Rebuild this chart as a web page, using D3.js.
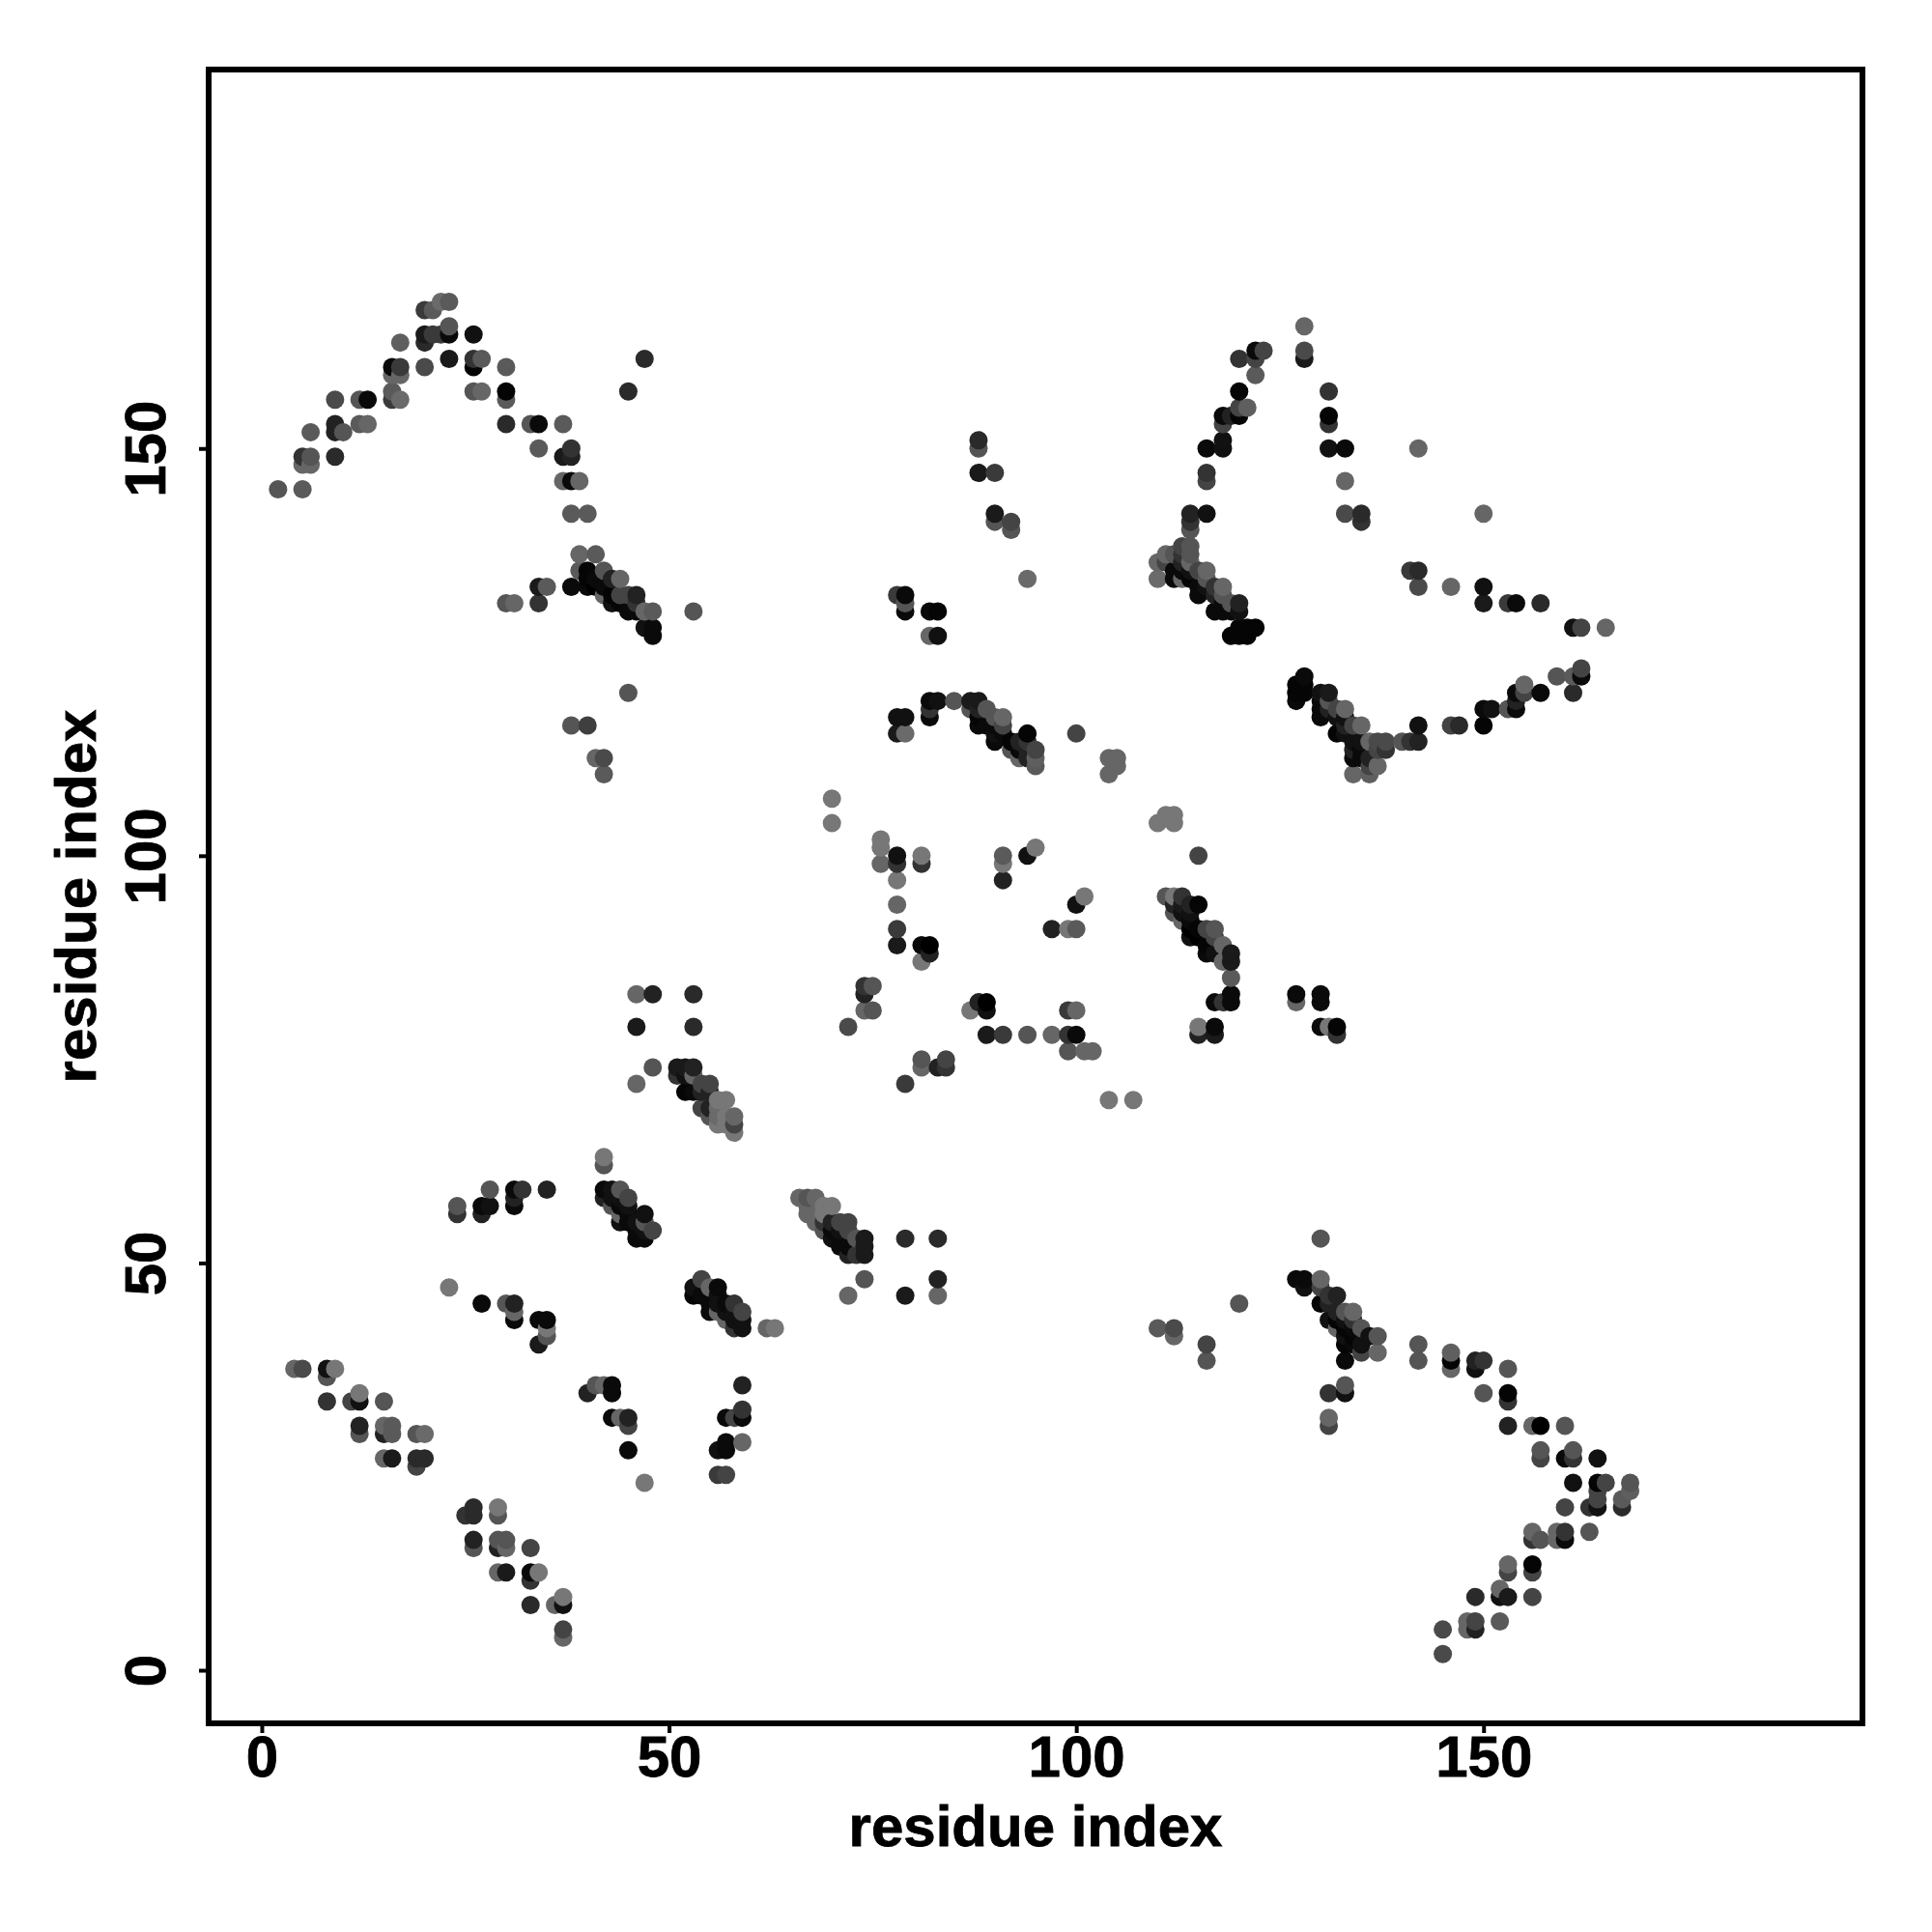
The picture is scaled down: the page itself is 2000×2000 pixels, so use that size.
<!DOCTYPE html>
<html><head><meta charset="utf-8"><style>html,body{margin:0;background:#fff}svg{display:block}text{font-family:"Liberation Sans",Arial,sans-serif;font-weight:bold;fill:#000;stroke:#000;stroke-width:0.8px}</style>
<script src="https://cdn.jsdelivr.net/npm/d3@7"></script></head><body><script>
// Each contact: [residue i, residue j, grey level]
const topLeftArc=[[2,145,0x55],[5,145,0x5a],[5,148,0x66],[6,148,0x66],[5,149,0x33],[6,149,0x55],[6,152,0x5a],[9,149,0x2a],[9,153,0x22],[9,152,0x22],[10,152,0x55],[9,156,0x4a],[12,156,0x55],[13,156,0x0a],[12,153,0x5a],[13,153,0x66],[16,157,0x5a],[16,156,0x3a],[17,156,0x6a],[16,160,0x0a],[17,160,0x3a],[16,159,0x66],[17,159,0x66],[17,163,0x5f],[20,160,0x4a],[20,167,0x3a],[21,167,0x5a],[22,168,0x6a],[23,168,0x5a],[20,164,0x1a],[20,163,0x2a],[21,164,0x3a],[22,164,0x3a],[23,164,0x0a],[23,165,0x55],[23,161,0x1a],[26,164,0x11],[26,161,0x33],[26,160,0x05],[27,161,0x5a],[26,157,0x55],[27,157,0x66],[30,160,0x5a],[30,157,0x05],[30,156,0x5a],[30,153,0x2a],[33,153,0x55],[34,153,0x0a],[37,153,0x5a],[34,150,0x5a],[37,149,0x1a],[38,149,0x22],[38,150,0x33],[37,146,0x66],[38,146,0x0a],[39,146,0x66],[38,142,0x5a],[40,142,0x5a]];
const helixA=[[39,137,0x66],[41,137,0x5a],[39,135,0x5a],[40,135,0x05],[42,135,0x55],[40,134,0x05],[41,134,0x0a],[38,133,0x0a],[40,133,0x0a],[34,133,0x1a],[35,133,0x5a],[30,131,0x55],[31,131,0x66],[34,131,0x33],[43,134,0x22],[44,134,0x66],[42,133,0x0a],[43,132,0x05],[41,133,0x00],[42,132,0x66],[43,131,0x11],[44,132,0x44],[45,132,0x44],[46,132,0x22],[44,131,0x05],[45,130,0x0a],[46,131,0x33],[46,130,0x0a],[47,130,0x66],[48,130,0x5a],[47,128,0x11],[48,128,0x0a],[48,127,0x0a],[53,130,0x55],[47,161,0x2a],[45,157,0x2a],[45,120,0x55],[38,116,0x55],[40,116,0x3f],[41,112,0x66],[42,112,0x4a],[42,110,0x5a]];
const topRightArc=[[128,165,0x66],[128,162,0x4a],[128,161,0x1a],[120,161,0x33],[122,162,0x0a],[123,162,0x44],[122,161,0x44],[122,159,0x5a],[120,157,0x05],[121,155,0x5f],[120,155,0x44],[118,154,0x0a],[119,154,0x22],[120,154,0x05],[118,153,0x44],[118,151,0x11],[118,150,0x11],[116,150,0x0a],[116,147,0x33],[116,146,0x44],[114,142,0x22],[116,142,0x11],[114,141,0x33],[114,140,0x55],[131,157,0x33],[131,154,0x05],[131,153,0x33],[131,150,0x11],[133,150,0x0a],[133,146,0x66],[133,142,0x4a],[135,142,0x2a],[135,141,0x33],[142,150,0x66],[150,142,0x66],[141,135,0x3a],[142,135,0x2a],[142,133,0x4a],[146,133,0x66],[150,133,0x11],[150,131,0x1a],[153,131,0x3a],[154,131,0x0a],[157,131,0x2a],[161,128,0x11],[162,128,0x44],[165,128,0x66]];
const rightTail=[[162,123,0x44],[162,122,0x0a],[161,122,0x5a],[159,122,0x55],[161,120,0x2a],[157,120,0x0a],[155,121,0x66],[154,120,0x0a],[155,120,0x44],[154,118,0x0a],[153,118,0x55],[154,119,0x22],[150,118,0x0a],[151,118,0x11],[150,116,0x05],[147,116,0x2a],[146,116,0x44],[142,116,0x11],[142,114,0x22],[141,114,0x33],[140,114,0x55]];
const helixB=[[128,122,0x0a],[127,121,0x05],[127,120,0x05],[127,119,0x0a],[128,121,0x05],[128,120,0x05],[130,120,0x11],[131,120,0x1a],[130,119,0x0a],[130,118,0x0a],[130,117,0x0a],[131,119,0x55],[131,118,0x22],[133,118,0x66],[132,118,0x44],[132,117,0x11],[133,117,0x11],[132,115,0x05],[133,116,0x22],[135,116,0x66],[134,116,0x44],[133,115,0x11],[134,114,0x11],[135,114,0x11],[136,114,0x66],[137,114,0x4a],[138,114,0x4a],[138,113,0x33],[137,113,0x44],[134,112,0x0a],[135,112,0x0a],[136,112,0x22],[137,111,0x66],[136,111,0x44],[134,110,0x66],[136,110,0x5f],[134,113,0x22],[135,113,0x0a]];
const helixC=[[110,136,0x66],[110,134,0x6a],[111,137,0x66],[111,136,0x44],[112,137,0x55],[112,135,0x0a],[112,134,0x0a],[113,138,0x44],[114,138,0x55],[113,137,0x33],[114,137,0x55],[113,136,0x22],[113,135,0x0a],[113,134,0x66],[114,135,0x11],[114,134,0x05],[114,136,0x66],[115,135,0x44],[116,135,0x66],[115,133,0x0a],[115,132,0x0a],[116,133,0x11],[116,134,0x55],[117,133,0x33],[118,133,0x66],[118,132,0x55],[117,132,0x22],[117,130,0x0a],[118,131,0x0a],[118,130,0x0a],[119,131,0x55],[120,131,0x22],[120,130,0x11],[119,130,0x0a],[119,127,0x05],[120,127,0x05],[121,127,0x05],[120,128,0x05],[121,128,0x05],[122,128,0x05]];
const centreUpper=[[88,151,0x2a],[88,150,0x55],[88,147,0x1a],[90,147,0x3a],[90,142,0x1a],[90,141,0x55],[92,141,0x44],[92,140,0x55],[94,134,0x6a],[78,132,0x3a],[79,132,0x0a],[79,131,0x55],[79,130,0x0a],[82,130,0x0a],[83,130,0x05],[82,127,0x66],[83,127,0x11],[82,119,0x0a],[83,119,0x11],[82,118,0x33],[82,117,0x0a],[85,119,0x55],[87,119,0x1a],[88,119,0x1a],[87,118,0x55],[88,118,0x22],[89,118,0x55],[88,117,0x05],[88,116,0x0a],[90,117,0x55],[91,117,0x66],[91,116,0x44],[90,116,0x0a],[89,116,0x0a],[90,115,0x11],[90,114,0x0a],[91,115,0x0a],[94,115,0x05],[93,114,0x22],[92,114,0x05],[94,114,0x33],[95,113,0x44],[94,113,0x22],[93,113,0x0a],[92,113,0x55],[93,112,0x66],[94,112,0x22],[95,112,0x5f],[95,111,0x5a],[78,117,0x11],[79,117,0x11],[78,115,0x1a],[79,115,0x6a],[100,115,0x44],[104,112,0x66],[105,112,0x66],[105,111,0x66],[104,110,0x66]];
const centreMiddle=[[70,107,0x77],[70,104,0x77],[76,102,0x77],[76,101,0x77],[76,99,0x66],[78,100,0x11],[78,99,0x33],[78,97,0x77],[78,94,0x66],[78,91,0x3a],[78,89,0x1a],[81,100,0x77],[81,99,0x33],[81,89,0x0a],[82,89,0x00],[82,88,0x22],[81,87,0x77],[91,100,0x5a],[91,99,0x77],[91,97,0x22],[94,100,0x11],[95,101,0x77],[100,94,0x11],[101,95,0x77],[97,91,0x22],[99,91,0x77],[100,91,0x5a],[110,104,0x77],[111,105,0x77],[112,105,0x77],[112,104,0x77],[115,100,0x44],[74,84,0x33],[75,84,0x55],[74,83,0x22],[74,81,0x66],[75,81,0x55],[72,79,0x4a],[88,82,0x22],[89,82,0x00],[89,81,0x11],[87,81,0x77],[89,78,0x1a],[91,78,0x3a],[94,78,0x55],[97,78,0x66],[99,78,0x33],[100,78,0x0a],[99,81,0x3a],[100,81,0x66],[99,76,0x55],[101,76,0x66],[102,76,0x66],[81,75,0x55],[81,74,0x66],[83,74,0x22],[84,75,0x44],[84,74,0x33],[79,72,0x3a],[104,70,0x77],[107,70,0x77]];
const helixD=[[111,95,0x55],[112,95,0x77],[113,95,0x33],[112,94,0x22],[113,94,0x1a],[114,94,0x22],[115,94,0x05],[112,93,0x55],[113,93,0x11],[114,93,0x11],[113,92,0x66],[114,92,0x0a],[114,91,0x00],[114,90,0x11],[115,91,0x05],[115,90,0x00],[116,91,0x44],[117,91,0x55],[117,90,0x44],[116,89,0x05],[116,88,0x0a],[117,88,0x11],[118,89,0x66],[118,87,0x66],[119,88,0x1a],[119,87,0x1a],[119,85,0x5a],[119,83,0x0a],[119,82,0x0a],[117,82,0x0a],[118,82,0x33],[115,79,0x77],[117,79,0x0a],[117,78,0x1a],[115,78,0x22],[127,83,0x0a],[127,82,0x66],[130,83,0x0a],[130,82,0x0a],[130,79,0x0a],[131,79,0x77],[132,79,0x05],[132,78,0x33]];
const helixE=[[46,83,0x66],[48,83,0x22],[53,83,0x2a],[46,79,0x1a],[53,79,0x2a],[48,74,0x55],[46,72,0x66],[51,74,0x1a],[52,74,0x1a],[53,74,0x22],[51,73,0x33],[52,73,0x11],[53,73,0x66],[54,72,0x44],[55,72,0x44],[52,71,0x05],[53,71,0x0a],[54,71,0x22],[55,71,0x22],[56,70,0x77],[57,70,0x77],[54,69,0x44],[55,69,0x22],[56,69,0x6a],[55,68,0x55],[56,68,0x6a],[57,68,0x77],[58,68,0x66],[56,67,0x77],[57,67,0x77],[58,67,0x44],[58,66,0x77]];
const helixF=[[42,63,0x77],[42,62,0x55],[42,59,0x0a],[43,59,0x11],[44,59,0x55],[42,58,0x22],[43,58,0x11],[45,58,0x44],[44,58,0x11],[43,57,0x55],[44,57,0x0a],[45,57,0x11],[44,56,0x66],[45,56,0x0a],[47,56,0x11],[44,55,0x11],[45,55,0x0a],[46,55,0x11],[47,55,0x55],[48,54,0x44],[46,54,0x0a],[47,54,0x11],[46,53,0x0a],[47,53,0x0a],[28,59,0x55],[31,59,0x0a],[32,59,0x33],[35,59,0x22],[31,58,0x22],[31,57,0x0a],[27,57,0x0a],[28,57,0x11],[24,57,0x55],[24,56,0x33],[27,56,0x22]];
const helixG=[[66,58,0x66],[67,58,0x55],[68,58,0x66],[67,57,0x66],[69,57,0x77],[70,57,0x77],[67,56,0x66],[68,56,0x66],[69,56,0x77],[68,55,0x66],[69,55,0x33],[70,55,0x22],[71,55,0x44],[72,55,0x44],[69,54,0x55],[70,54,0x0a],[71,54,0x11],[72,54,0x44],[70,53,0x11],[71,53,0x0a],[73,53,0x55],[74,53,0x1a],[71,52,0x0a],[72,52,0x0a],[74,52,0x1a],[73,51,0x33],[74,51,0x1a],[72,51,0x22],[79,53,0x2a],[83,53,0x2a],[74,48,0x55],[72,46,0x66],[79,46,0x1a],[83,48,0x22],[83,46,0x66]];
const helixH=[[54,48,0x44],[53,47,0x11],[55,47,0x66],[56,47,0x0a],[53,46,0x05],[54,46,0x0a],[56,46,0x11],[58,45,0x33],[55,45,0x0a],[56,45,0x11],[57,45,0x0a],[55,44,0x0a],[56,44,0x66],[57,44,0x11],[59,44,0x44],[58,44,0x11],[57,43,0x66],[58,43,0x11],[59,43,0x11],[58,42,0x33],[59,42,0x11],[62,42,0x66],[63,42,0x77],[23,47,0x77],[27,45,0x0a],[30,45,0x55],[31,45,0x22],[31,44,0x66],[31,43,0x0a],[34,43,0x0a],[35,43,0x0a],[35,42,0x77],[35,41,0x55],[34,40,0x1a]];
const bottomLeft=[[4,37,0x66],[5,37,0x4a],[8,37,0x11],[9,37,0x77],[8,36,0x55],[8,33,0x33],[11,33,0x44],[12,33,0x11],[12,34,0x77],[15,33,0x55],[12,30,0x22],[12,29,0x55],[15,30,0x66],[16,30,0x5a],[15,29,0x22],[16,29,0x5a],[19,29,0x55],[20,29,0x6a],[15,26,0x66],[16,26,0x1a],[19,26,0x2a],[20,26,0x2a],[19,25,0x44],[40,34,0x22],[41,35,0x55],[42,35,0x66],[43,35,0x0a],[43,34,0x0a],[43,31,0x0a],[44,31,0x66],[45,31,0x22],[45,30,0x44],[45,27,0x0a],[47,23,0x77],[59,35,0x22],[59,32,0x33],[59,31,0x0a],[58,31,0x44],[57,31,0x0a],[59,28,0x66],[57,28,0x0a],[57,27,0x0a],[56,27,0x11],[56,24,0x3a],[57,24,0x44],[26,20,0x2a],[25,19,0x33],[26,19,0x2a],[29,20,0x77],[29,19,0x55],[26,16,0x22],[26,15,0x55],[29,16,0x55],[30,16,0x55],[29,15,0x22],[30,15,0x66],[33,15,0x44],[29,12,0x66],[30,12,0x1a],[33,12,0x0a],[34,12,0x77],[33,11,0x33],[33,8,0x2a],[36,8,0x66],[37,8,0x11],[37,9,0x77],[37,5,0x44],[37,4,0x66]];
const helixI=[[130,53,0x55],[110,42,0x5a],[112,42,0x4a],[112,41,0x66],[116,40,0x44],[116,38,0x55],[120,45,0x55],[127,48,0x0a],[128,48,0x0a],[128,47,0x11],[130,48,0x66],[130,47,0x44],[131,46,0x33],[132,46,0x22],[130,45,0x05],[131,45,0x22],[133,44,0x55],[134,44,0x66],[131,43,0x11],[132,44,0x22],[132,43,0x05],[133,43,0x11],[134,43,0x33],[135,42,0x55],[132,42,0x66],[133,42,0x05],[134,42,0x0a],[133,41,0x11],[134,41,0x05],[136,41,0x11],[137,41,0x55],[133,40,0x05],[134,40,0x0a],[135,40,0x11],[135,39,0x44],[137,39,0x66],[133,38,0x0a],[133,35,0x55],[133,34,0x11],[131,34,0x33],[131,31,0x66],[131,30,0x44]];
const bottomRightArc=[[142,40,0x55],[142,38,0x55],[146,39,0x5f],[146,38,0x05],[146,37,0x66],[149,38,0x22],[150,38,0x33],[149,37,0x11],[153,37,0x55],[150,34,0x55],[153,34,0x05],[153,33,0x33],[153,30,0x22],[156,30,0x66],[157,30,0x00],[160,30,0x55],[157,27,0x55],[157,26,0x44],[160,26,0x0a],[161,27,0x55],[161,26,0x33],[164,26,0x11],[161,23,0x11],[164,23,0x05],[165,23,0x44],[168,23,0x55],[168,22,0x5f],[164,22,0x44],[164,21,0x44],[167,21,0x5a],[167,20,0x2a],[160,20,0x44],[163,20,0x33],[164,20,0x11],[156,17,0x66],[157,16,0x55],[156,16,0x33],[159,17,0x66],[160,17,0x33],[159,16,0x66],[160,16,0x0a],[163,17,0x55],[153,13,0x66],[156,13,0x05],[153,12,0x44],[156,12,0x44],[152,10,0x66],[149,9,0x2a],[152,9,0x11],[153,9,0x1a],[156,9,0x44],[152,6,0x5a],[148,6,0x66],[149,6,0x44],[148,5,0x66],[149,5,0x22],[145,5,0x4a],[145,2,0x4a]];
const xTicks=[0,50,100,150];
const yTicks=[0,50,100,150];
const xTitle="residue index";
const yTitle="residue index";

const contacts=[topLeftArc,helixA,topRightArc,rightTail,helixB,helixC,centreUpper,centreMiddle,helixD,helixE,helixF,helixG,helixH,bottomLeft,helixI,bottomRightArc].flat()
  .sort((a,b)=>d3.ascending(a[0],b[0])||d3.ascending(a[1],b[1]));

const L=216,R=1928,T=72,B=1784;
const x=d3.scaleLinear().domain([-6.52,196.52]).range([L,R]);
const y=d3.scaleLinear().domain([-6.52,196.52]).range([B,T]);
const grey=d3.scaleLinear().domain([0,255]).range(["#000","#fff"]);

const svg=d3.select("body").append("svg").attr("width",2000).attr("height",2000);
svg.append("rect").attr("width",2000).attr("height",2000).attr("fill","#fff").attr("stroke","none");
svg.append("g").selectAll("circle").data(contacts).join("circle")
  .attr("cx",d=>x(d[0])).attr("cy",d=>y(d[1])).attr("r",9.5).attr("fill",d=>grey(d[2]));

const gx=svg.append("g").attr("transform",`translate(0,${B})`).call(d3.axisBottom(x).tickValues(xTicks).tickSize(10).tickPadding(0));
gx.select(".domain").remove();
gx.selectAll("line").attr("stroke","#000").attr("stroke-width",4);
gx.selectAll("text").attr("y",55).attr("dy",0).attr("font-size",60).attr("font-family",null);

const gy=svg.append("g").attr("transform",`translate(${L},0)`).call(d3.axisLeft(y).tickValues(yTicks).tickSize(10));
gy.select(".domain").remove();
gy.selectAll("line").attr("stroke","#000").attr("stroke-width",4);
gy.selectAll("text").attr("x",0).attr("dy",0).attr("text-anchor","middle").attr("font-size",60)
  .attr("transform",d=>`translate(-45,0) rotate(-90)`);

svg.append("rect").attr("x",L).attr("y",T).attr("width",R-L).attr("height",B-T).attr("fill","none").attr("stroke","#000").attr("stroke-width",6);

svg.append("text").attr("x",(L+R)/2).attr("y",1911).attr("text-anchor","middle").attr("font-size",60).text(xTitle);
svg.append("text").attr("transform",`translate(99,${(T+B)/2}) rotate(-90)`).attr("text-anchor","middle").attr("font-size",60).text(yTitle);
</script></body></html>
